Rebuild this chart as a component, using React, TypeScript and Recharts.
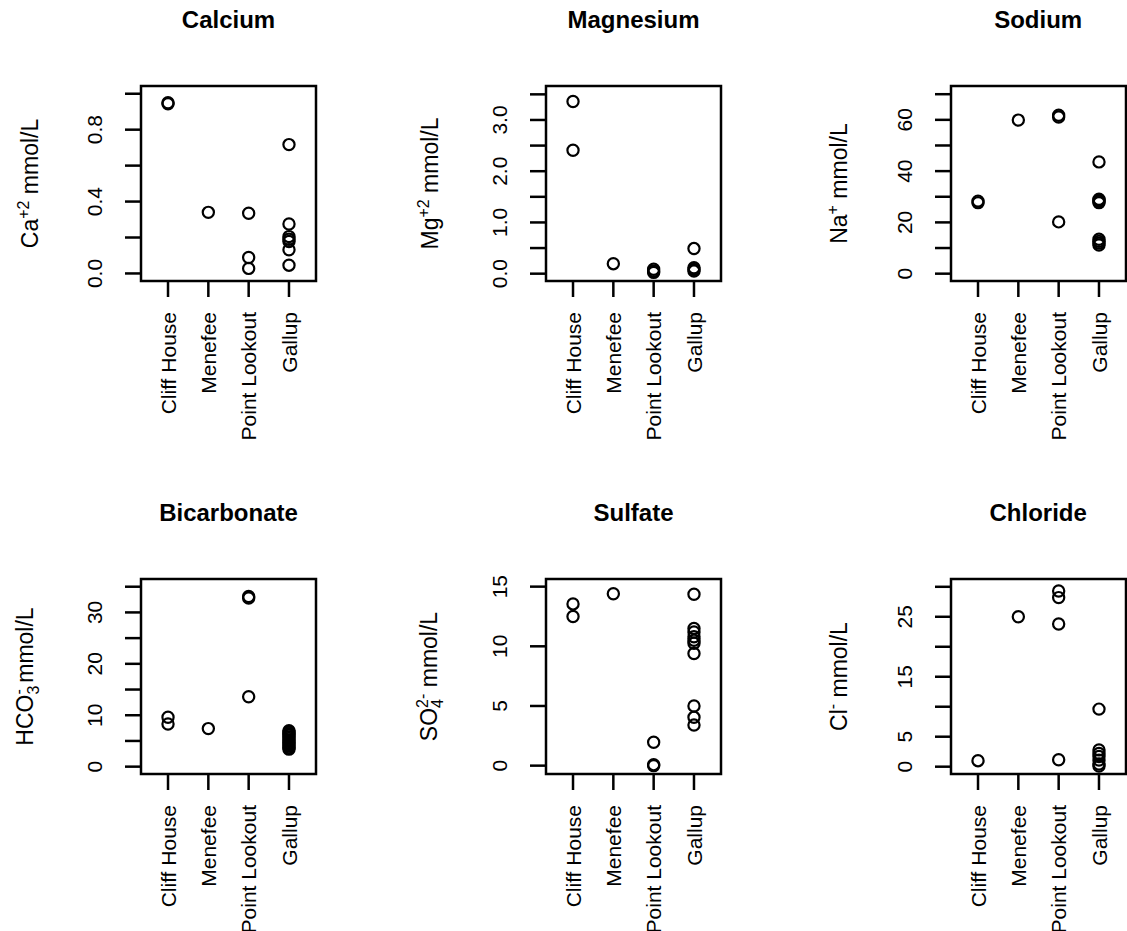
import React from 'react';
import { ScatterChart, Scatter, XAxis, YAxis, ReferenceArea } from 'recharts';

// formations along the x axis
const formations = ['Cliff House', 'Menefee', 'Point Lookout', 'Gallup'];

// concentrations (mmol/L), one list per formation
const calcium = [
  [0.95, 0.944],
  [0.34],
  [0.335, 0.089, 0.028],
  [0.717, 0.275, 0.205, 0.19, 0.178, 0.132, 0.046],
];
const magnesium = [
  [3.36, 2.41],
  [0.195],
  [0.085, 0.05, 0.025],
  [0.49, 0.115, 0.08, 0.05],
];
const sodium = [
  [28.3, 27.7],
  [59.9],
  [61.8, 61.1, 20.2],
  [43.6, 29.0, 28.6, 28.2, 27.7, 13.4, 12.6, 11.9, 11.2],
];
const bicarbonate = [
  [9.6, 8.3],
  [7.4],
  [33.1, 32.8, 13.6],
  [7.0, 6.7, 6.4, 6.1, 5.8, 5.5, 5.2, 4.9, 4.6, 4.3, 4.0, 3.7, 3.4],
];
const sulfate = [
  [13.55, 12.5],
  [14.4],
  [1.96, 0.08, 0.0],
  [14.36, 11.5, 11.2, 10.8, 10.5, 10.25, 9.4, 5.0, 4.05, 3.4],
];
const chloride = [
  [1.0],
  [25.0],
  [29.3, 28.2, 23.8, 1.15],
  [9.6, 2.8, 2.2, 1.7, 1.1, 0.45, 0.1],
];

// y ticks and the labels R kept (blank = tick without label)
const calciumTicks = [0, 0.2, 0.4, 0.6, 0.8, 1.0];
const calciumLabels = ['0.0', '', '0.4', '', '0.8', ''];
const magnesiumTicks = [0, 0.5, 1, 1.5, 2, 2.5, 3, 3.5];
const magnesiumLabels = ['0.0', '', '1.0', '', '2.0', '', '3.0', ''];
const sodiumTicks = [0, 10, 20, 30, 40, 50, 60, 70];
const sodiumLabels = ['0', '', '20', '', '40', '', '60', ''];
const bicarbonateTicks = [0, 5, 10, 15, 20, 25, 30, 35];
const bicarbonateLabels = ['0', '', '10', '', '20', '', '30', ''];
const sulfateTicks = [0, 5, 10, 15];
const sulfateLabels = ['0', '5', '10', '15'];
const chlorideTicks = [0, 5, 10, 15, 20, 25, 30];
const chlorideLabels = ['0', '5', '', '15', '', '25', ''];

const FONT = '"Liberation Sans", Arial, Helvetica, sans-serif';
const TICK_FONT = 21;
const LAB_FONT = 23;
const SMALL_FONT = 16;
const X_DOMAIN = [0.33, 4.67];
const PLOT_LEFT = 142;
const PLOT_TOP = 86;
const PLOT_W = 175;
const PLOT_H = 195;
const X_AXIS_H = 180;
const CHART_W = PLOT_LEFT + PLOT_W + 10;
const CHART_H = PLOT_TOP + PLOT_H + X_AXIS_H;
const LINE = { stroke: '#000', strokeWidth: 2.5 };

type Seg = [string, 'n' | 'sup' | 'sub' | 'supBack'];

const panels = [
  { title: 'Calcium', values: calcium, ticks: calciumTicks, labels: calciumLabels, domain: [-0.042, 1.043],
    ylab: [['Ca', 'n'], ['+2', 'sup'], [' mmol/L', 'n']] as Seg[], labShift: 103, left: -1, top: -0.5 },
  { title: 'Magnesium', values: magnesium, ticks: magnesiumTicks, labels: magnesiumLabels, domain: [-0.143, 3.663],
    ylab: [['Mg', 'n'], ['+2', 'sup'], [' mmol/L', 'n']] as Seg[], labShift: 108, left: 404, top: -0.5 },
  { title: 'Sodium', values: sodium, ticks: sodiumTicks, labels: sodiumLabels, domain: [-2.86, 73.2],
    ylab: [['Na', 'n'], ['+', 'sup'], [' mmol/L', 'n']] as Seg[], labShift: 104, left: 808.7, top: -0.5 },
  { title: 'Bicarbonate', values: bicarbonate, ticks: bicarbonateTicks, labels: bicarbonateLabels, domain: [-1.43, 36.5],
    ylab: [['HCO', 'n'], ['3', 'sub'], ['-', 'supBack'], [' mmol/L', 'n']] as Seg[], labShift: 108, left: -1, top: 492.7 },
  { title: 'Sulfate', values: sulfate, ticks: sulfateTicks, labels: sulfateLabels, domain: [-0.7, 15.64],
    ylab: [['SO', 'n'], ['4', 'sub'], ['2-', 'supBack'], [' mmol/L', 'n']] as Seg[], labShift: 109, left: 404, top: 492.7 },
  { title: 'Chloride', values: chloride, ticks: chlorideTicks, labels: chlorideLabels, domain: [-1.22, 31.3],
    ylab: [['Cl', 'n'], ['-', 'sup'], [' mmol/L', 'n']] as Seg[], labShift: 104, left: 808.7, top: 492.7 },
];

function FormationTick(props: any) {
  const { x, y, payload } = props;
  const px = x + 7.6;
  const py = y + 13;
  return (
    <text x={px} y={py} transform={`rotate(-90 ${px} ${py})`} textAnchor="end"
      fontFamily={FONT} fontSize={TICK_FONT} fill="#000">
      {formations[payload.value - 1]}
    </text>
  );
}

function ValueTick(props: any) {
  const { x, y, payload, ticks, labels } = props;
  const label = labels[ticks.indexOf(payload.value)];
  if (!label) return null;
  const px = x - 21;
  return (
    <text x={px} y={y} transform={`rotate(-90 ${px} ${y})`} textAnchor="middle"
      fontFamily={FONT} fontSize={TICK_FONT} fill="#000">
      {label}
    </text>
  );
}

function YTitle({ segs, shift }: { segs: Seg[]; shift: number }) {
  const px = PLOT_LEFT - shift;
  const py = PLOT_TOP + PLOT_H / 2;
  let cur = 0;
  let lastSmall = '';
  const spans = segs.map(([t, kind], i) => {
    const target = kind === 'sup' || kind === 'supBack' ? -9 : kind === 'sub' ? 5.5 : 0;
    const dy = target - cur;
    cur = target;
    const small = kind !== 'n';
    const dx = kind === 'supBack' ? -lastSmall.length * 8.9 : 0;
    if (small) lastSmall = t;
    return (
      <tspan key={i} dy={dy} dx={dx} fontSize={small ? SMALL_FONT : LAB_FONT}>{t}</tspan>
    );
  });
  return (
    <text x={px} y={py} transform={`rotate(-90 ${px} ${py})`} textAnchor="middle"
      fontFamily={FONT} fontSize={LAB_FONT} fill="#000" style={{ whiteSpace: 'pre' }}>
      {spans}
    </text>
  );
}

const renderCircle = (props: any) => (
  <circle cx={props.cx} cy={props.cy} r={5.6} fill="none" stroke="#000" strokeWidth={2.2} />
);

function Panel({ p }: { p: (typeof panels)[number] }) {
  const data = p.values.flatMap((vals, i) => vals.map((v) => ({ x: i + 1, y: v })));
  return (
    <div style={{ position: 'absolute', left: p.left, top: p.top, width: CHART_W, height: CHART_H }}>
      <div style={{ position: 'absolute', left: PLOT_LEFT + PLOT_W / 2 - 120, width: 240, top: 8.5,
        textAlign: 'center', fontFamily: FONT, fontWeight: 'bold', fontSize: 24, lineHeight: 1 }}>
        {p.title}
      </div>
      <ScatterChart width={CHART_W} height={CHART_H} margin={{ top: PLOT_TOP, right: 10, bottom: 0, left: 0 }}>
        <XAxis type="number" dataKey="x" domain={X_DOMAIN} ticks={[1, 2, 3, 4]} interval={0}
          allowDataOverflow axisLine={false} tickLine={LINE} tickSize={16} height={X_AXIS_H}
          tick={<FormationTick />} />
        <YAxis type="number" dataKey="y" domain={p.domain} ticks={p.ticks} interval={0}
          allowDataOverflow axisLine={false} tickLine={LINE} tickSize={16} width={PLOT_LEFT}
          tick={<ValueTick ticks={p.ticks} labels={p.labels} />}
          label={<YTitle segs={p.ylab} shift={p.labShift} />} />
        <ReferenceArea x1={X_DOMAIN[0]} x2={X_DOMAIN[1]} y1={p.domain[0]} y2={p.domain[1]}
          fill="none" fillOpacity={0} stroke="#000" strokeWidth={2.5} strokeOpacity={1} />
        <Scatter data={data} shape={renderCircle} isAnimationActive={false} />
      </ScatterChart>
    </div>
  );
}

export default function App() {
  return (
    <div style={{ position: 'absolute', left: 0, top: 0, width: 1127, height: 931, overflow: 'hidden',
      background: '#fff' }}>
      {panels.map((p) => (
        <Panel key={p.title} p={p} />
      ))}
    </div>
  );
}
